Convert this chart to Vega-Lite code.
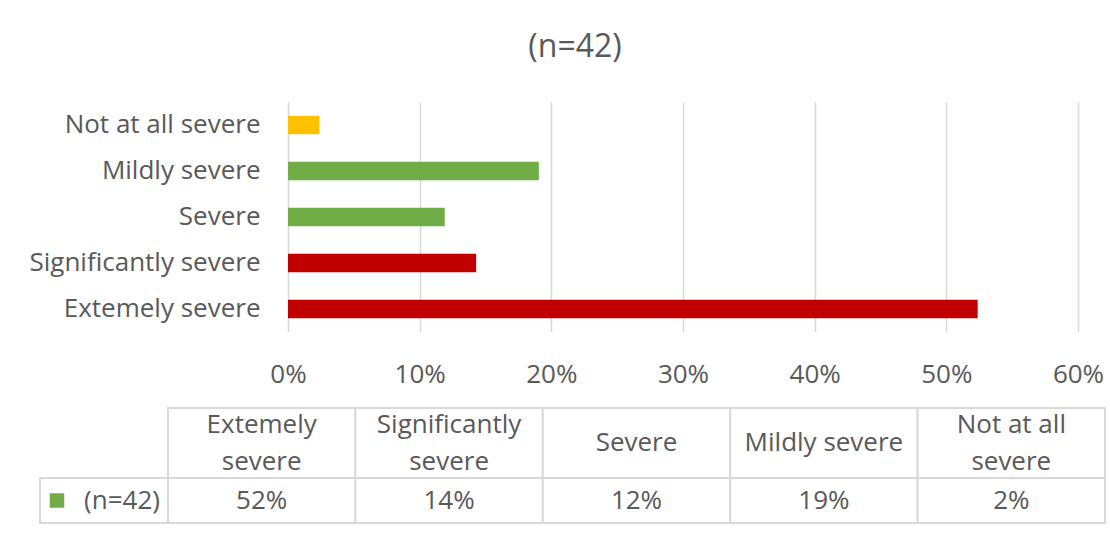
{
  "$schema": "https://vega.github.io/schema/vega-lite/v6.json",
  "width": 790,
  "height": 230,
  "autosize": "none",
  "padding": {"left": 288, "top": 102, "right": 32, "bottom": 217},
  "background": "white",
  "config": {"font": "Open Sans", "view": {"stroke": null}},
  "title": {
    "text": "(n=42)",
    "fontSize": 32,
    "fontWeight": "normal",
    "color": "#595959",
    "anchor": "middle",
    "frame": "group",
    "baseline": "alphabetic",
    "offset": 13,
    "dx": -108
  },
  "data": {
    "values": [
      {"cat": "Extemely severe", "head": "Extemely\nsevere", "pct": 0.5238},
      {"cat": "Significantly severe", "head": "Significantly\nsevere", "pct": 0.1429},
      {"cat": "Severe", "head": "Severe", "pct": 0.1190},
      {"cat": "Mildly severe", "head": "Mildly severe", "pct": 0.1905},
      {"cat": "Not at all severe", "head": "Not at all\nsevere", "pct": 0.0238}
    ]
  },
  "layer": [
    {
      "mark": {"type": "bar"},
      "encoding": {
        "y": {
          "field": "cat", "type": "nominal",
          "sort": ["Not at all severe", "Mildly severe", "Severe", "Significantly severe", "Extemely severe"],
          "scale": {"paddingInner": 0.6, "paddingOuter": 0.3},
          "axis": {"title": null, "domain": false, "ticks": false, "grid": false, "labelPadding": 28, "labelFontSize": 26, "labelLimit": 400, "labelColor": "#595959"}
        },
        "x": {
          "field": "pct", "type": "quantitative",
          "scale": {"domain": [0, 0.6]},
          "axis": {"title": null, "format": ".0%", "values": [0, 0.1, 0.2, 0.3, 0.4, 0.5, 0.6], "grid": true, "gridColor": "#d9d9d9", "gridWidth": 1.5, "domain": false, "ticks": false, "labelFlush": false, "labelOverlap": false, "labelPadding": 29, "labelFontSize": 26, "labelColor": "#595959"}
        },
        "color": {
          "field": "cat", "type": "nominal",
          "scale": {"domain": ["Extemely severe", "Significantly severe", "Severe", "Mildly severe", "Not at all severe"], "range": ["#C00000", "#C00000", "#70AD47", "#70AD47", "#FFC000"]},
          "legend": null
        }
      }
    },
    {
      "encoding": {
        "x": {"field": "cat", "type": "nominal", "sort": null, "scale": {"range": [-120, 817], "paddingInner": 0, "paddingOuter": 0}, "axis": null},
        "y": {"datum": "header", "type": "nominal", "scale": {"range": [306, 376], "paddingInner": 0, "paddingOuter": 0}, "axis": null}
      },
      "layer": [
        {"mark": {"type": "rect", "fill": "white", "stroke": "#d9d9d9", "strokeWidth": 2}},
        {
          "transform": [{"filter": "indexof(datum.head, '\\n') < 0"}],
          "mark": {"type": "text", "fontSize": 26, "color": "#595959", "baseline": "middle"},
          "encoding": {"text": {"field": "head"}}
        },
        {
          "transform": [{"filter": "indexof(datum.head, '\\n') >= 0"}],
          "mark": {"type": "text", "fontSize": 26, "color": "#595959", "lineBreak": "\n", "lineHeight": 37, "baseline": "middle", "dy": -18},
          "encoding": {"text": {"field": "head"}}
        }
      ]
    },
    {
      "encoding": {
        "x": {"field": "cat", "type": "nominal", "sort": null, "scale": {"range": [-120, 817], "paddingInner": 0, "paddingOuter": 0}, "axis": null},
        "y": {"datum": "(n=42)", "type": "nominal", "scale": {"range": [376, 421], "paddingInner": 0, "paddingOuter": 0}, "axis": null}
      },
      "layer": [
        {"mark": {"type": "rect", "fill": "white", "stroke": "#d9d9d9", "strokeWidth": 2}},
        {"mark": {"type": "text", "fontSize": 26, "color": "#595959", "baseline": "middle"}, "encoding": {"text": {"field": "pct", "format": ".0%"}}}
      ]
    },
    {
      "data": {"values": [{"series": "(n=42)"}]},
      "encoding": {
        "x": {"field": "series", "type": "nominal", "scale": {"range": [-248, -120], "paddingInner": 0, "paddingOuter": 0}, "axis": null},
        "y": {"field": "series", "type": "nominal", "scale": {"range": [376, 421], "paddingInner": 0, "paddingOuter": 0}, "axis": null}
      },
      "layer": [
        {"mark": {"type": "rect", "fill": "white", "stroke": "#d9d9d9", "strokeWidth": 2}},
        {"mark": {"type": "point", "shape": "square", "filled": true, "size": 210, "color": "#70AD47", "opacity": 1, "xOffset": 17}, "encoding": {"x": {"field": "series", "type": "nominal", "bandPosition": 0}}},
        {"mark": {"type": "text", "fontSize": 26, "color": "#595959", "baseline": "middle", "align": "right", "dx": -8}, "encoding": {"x": {"field": "series", "type": "nominal", "bandPosition": 1}, "text": {"field": "series"}}}
      ]
    }
  ],
  "resolve": {"scale": {"x": "independent", "y": "independent", "color": "independent"}}
}
